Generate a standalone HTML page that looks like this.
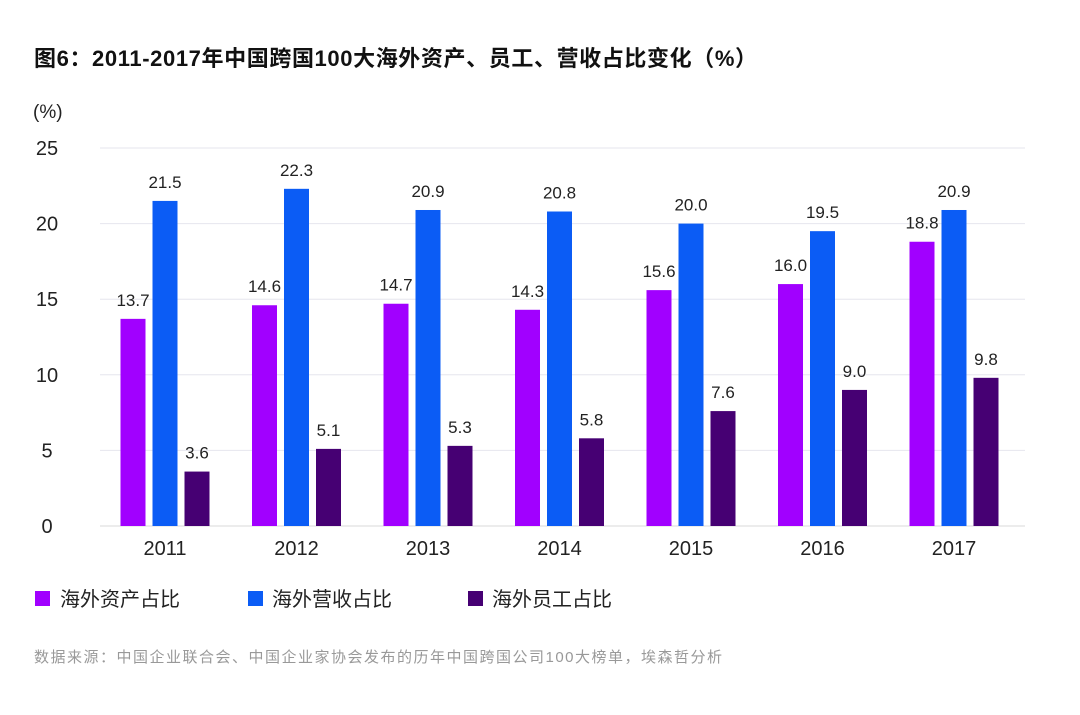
<!DOCTYPE html>
<html><head><meta charset="utf-8"><style>
body{margin:0;background:#fff;width:1080px;height:715px;overflow:hidden;font-family:"Liberation Sans","Noto Sans CJK SC",sans-serif}
</style></head><body>
<svg id="chart" width="1080" height="715" style="position:absolute;left:0;top:0">
<text x="34" y="66" font-size="22" font-weight="bold" fill="#111" textLength="723" lengthAdjust="spacing" font-family="Liberation Sans,Noto Sans CJK SC,sans-serif">图6：2011-2017年中国跨国100大海外资产、员工、营收占比变化（%）</text>
<text x="33" y="118" font-size="19" fill="#222">(%)</text>
<g id="grid"></g><g id="bars"></g><g id="labels"></g>
<g>
<rect x="35" y="591" width="15" height="15" fill="#a100ff"/>
<text x="60" y="606" font-size="20" fill="#222">海外资产占比</text>
<rect x="248" y="591" width="15" height="15" fill="#0b5cf5"/>
<text x="272" y="606" font-size="20" fill="#222">海外营收占比</text>
<rect x="468" y="591" width="15" height="15" fill="#460073"/>
<text x="492" y="606" font-size="20" fill="#222">海外员工占比</text>
</g>
<text x="34" y="662" font-size="15" fill="#999" textLength="688" lengthAdjust="spacing">数据来源：中国企业联合会、中国企业家协会发布的历年中国跨国公司100大榜单，埃森哲分析</text>
</svg>
<script>
const categories=["2011","2012","2013","2014","2015","2016","2017"];
const assets=[13.7,14.6,14.7,14.3,15.6,16.0,18.8];
const revenue=[21.5,22.3,20.9,20.8,20.0,19.5,20.9];
const employees=[3.6,5.1,5.3,5.8,7.6,9.0,9.8];
const yTicks=[0,5,10,15,20,25];
const NS="http://www.w3.org/2000/svg";
const y=v=>526-v*(378/25);
const xc=i=>165+i*131.5;
function mk(tag,attrs,parent){const e=document.createElementNS(NS,tag);for(const k in attrs)e.setAttribute(k,attrs[k]);document.getElementById(parent).appendChild(e);return e;}
yTicks.forEach(t=>{
 const l=mk('line',{x1:100,x2:1025,y1:y(t),y2:y(t),stroke:t===0?'#d8d8d8':'#e6e6ee','stroke-width':1},'grid');
 
 
 const tx=mk('text',{x:47,y:y(t)+7,'font-size':20,fill:'#222','text-anchor':'middle'},'grid');
 tx.textContent=t;
 
 
});
const series=[[assets,'#a100ff',-32,'assets'],[revenue,'#0b5cf5',0,'revenue'],[employees,'#460073',32,'employees']];
categories.forEach((c,i)=>{
 series.forEach(s=>{
  const v=s[0][i],cx=xc(i)+s[2];
  const r=mk('rect',{x:cx-12.5,y:y(v),width:25,height:y(0)-y(v),fill:s[1]},'bars');
  
  
  const t=mk('text',{x:cx,y:y(v)-13,'font-size':17,fill:'#222','text-anchor':'middle'},'labels');
  t.textContent=v.toFixed(1);
  
  
 });
 const t=mk('text',{x:xc(i),y:555,'font-size':20,fill:'#222','text-anchor':'middle'},'labels');
 t.textContent=c;
 
 
});
</script>
</body></html>
